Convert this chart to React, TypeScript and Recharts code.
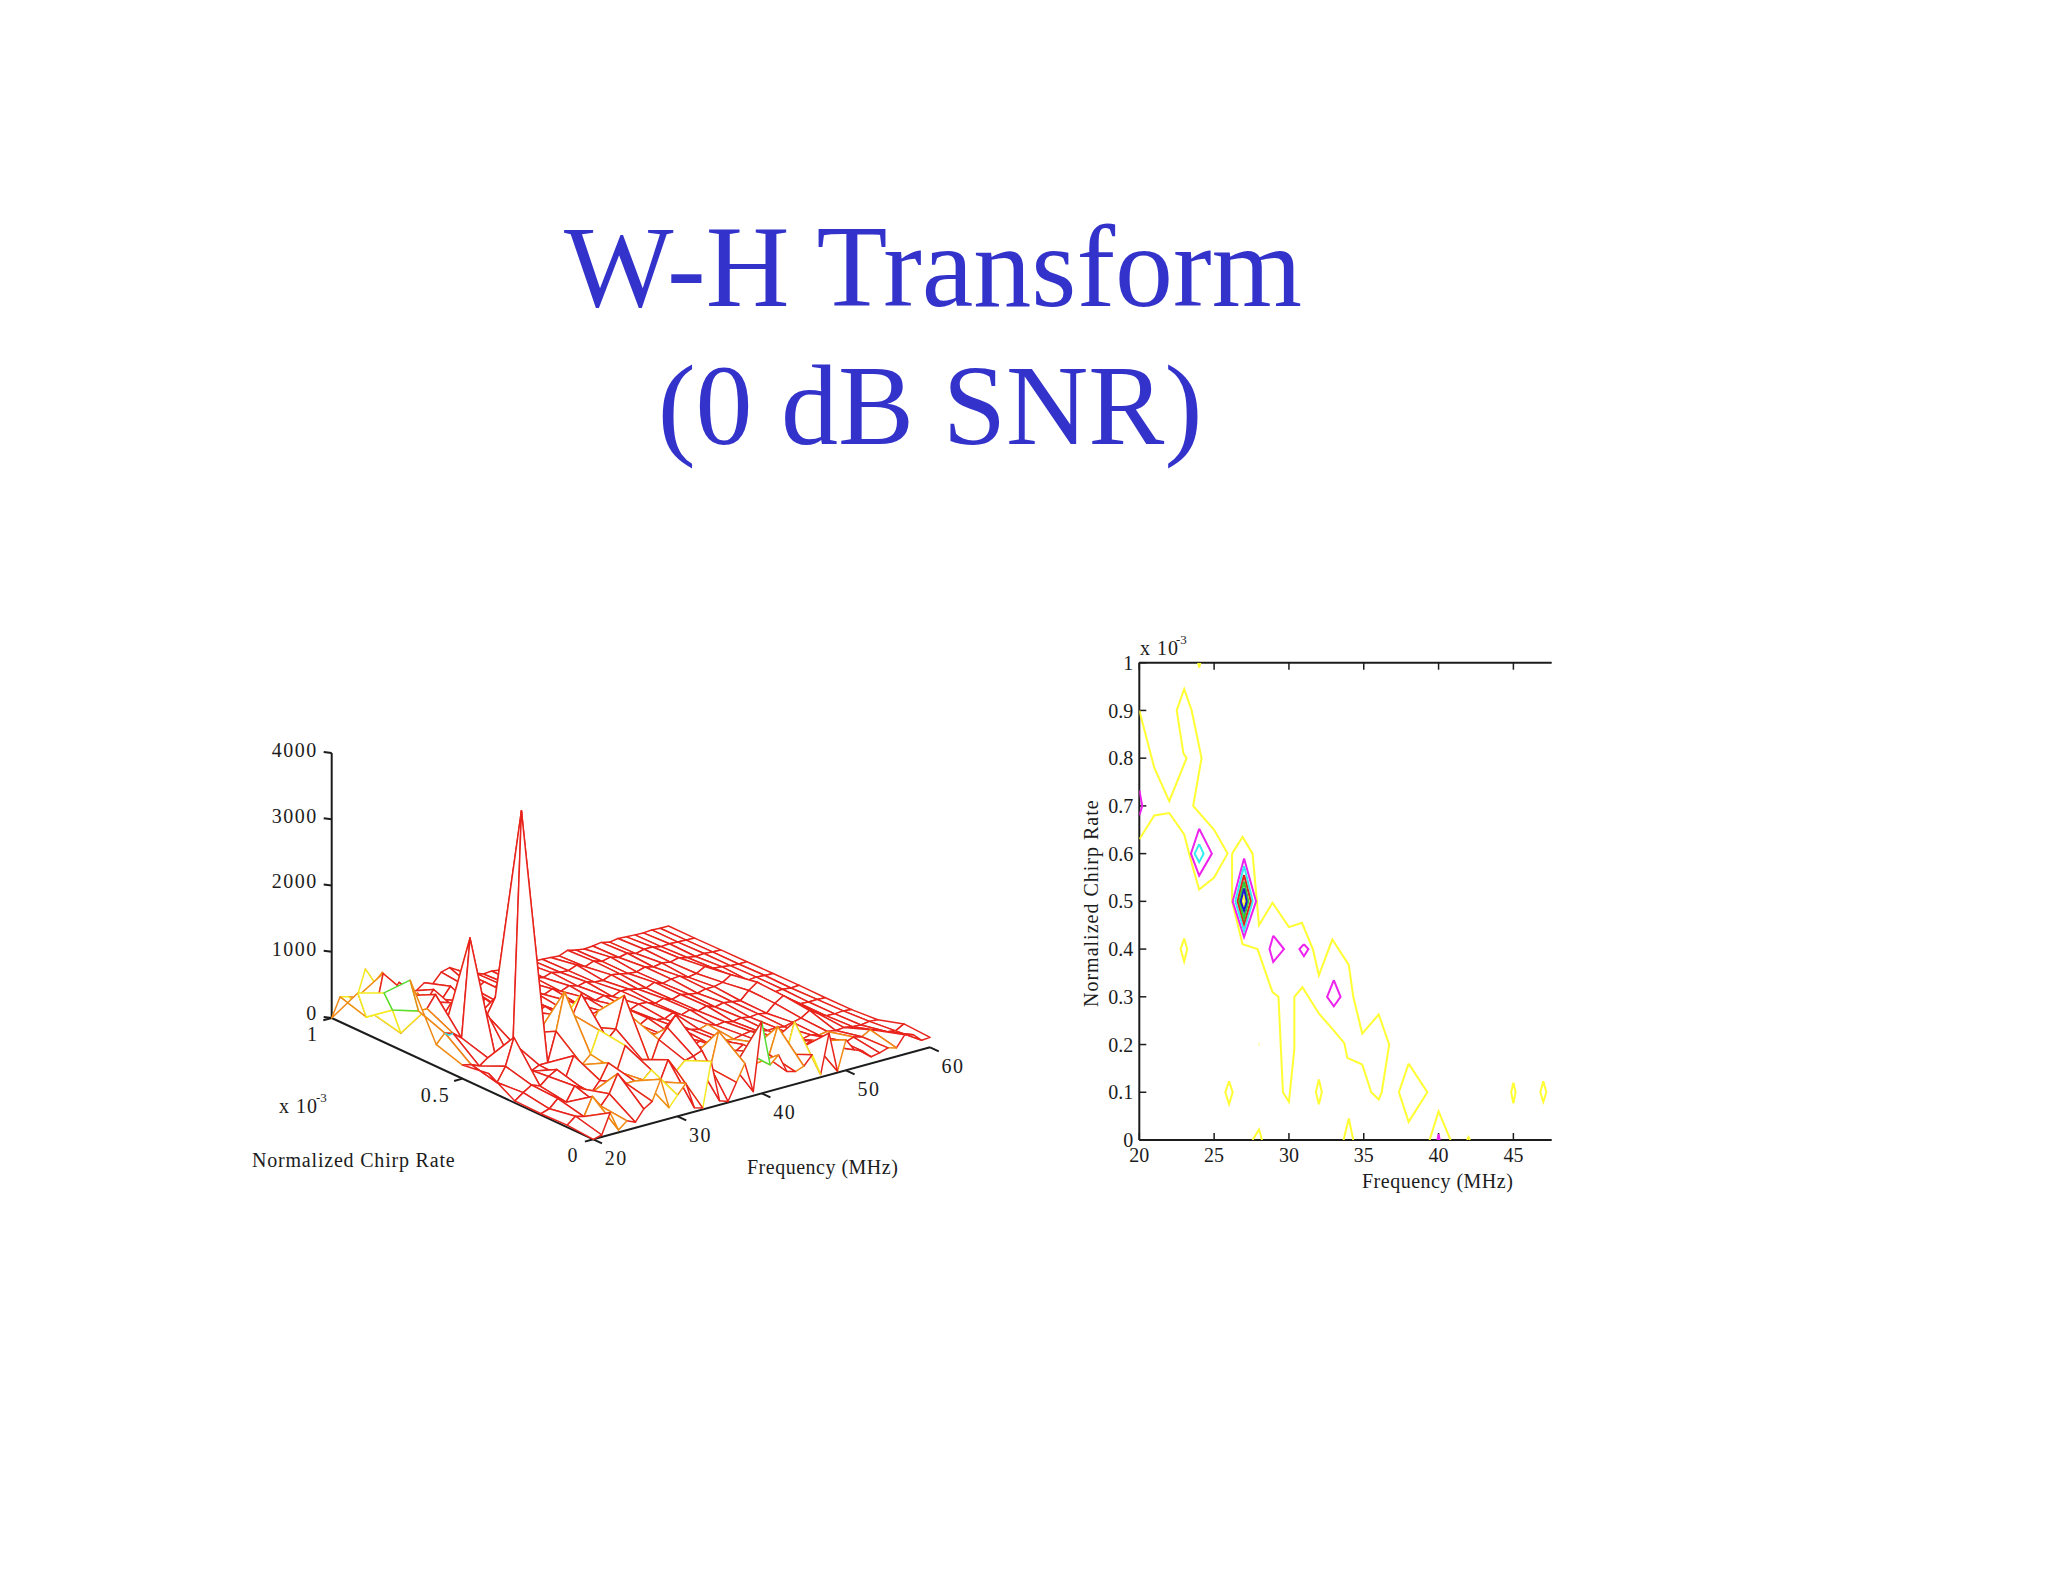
import React from 'react';
import { ScatterChart, Scatter, XAxis, YAxis } from 'recharts';

// ---------- surface data (amplitude by frequency 20..60 MHz) ----------
const frequencies = [20,21,22,23,24,25,26,27,28,29,30,31,32,33,34,35,36,37,38,39,40,41,42,43,44,45,46,47,48,49,50,51,52,53,54,55,56,57,58,59,60];
const chirpRates = [1,0.9,0.8,0.7,0.6,0.5,0.4,0.3,0.2,0.1,0];
const amp100 = [0,285,250,210,600,350,480,100,260,90,60,150,100,240,275,200,60,90,40,50,30,20,40,30,25,18,10,0,50,20,0,10,30,0,20,10,5,0,10,0,0];
const amp090 = [560,163,160,750,200,330,190,220,150,300,120,280,90,200,120,210,90,100,60,40,40,60,30,70,40,30,80,20,70,30,60,20,50,10,40,40,10,20,10,5,0];
const amp080 = [745,453,70,600,600,300,80,150,320,140,260,100,240,130,90,200,130,70,120,60,110,40,90,50,80,40,30,80,60,30,20,60,25,50,30,60,30,10,20,10,5];
const amp070 = [1120,620,620,800,200,180,300,200,100,240,170,280,120,210,160,100,170,90,70,140,60,120,50,90,40,90,80,50,30,80,30,60,70,20,40,110,50,40,20,10,10];
const amp060 = [330,470,430,326,1800,880,565,800,300,200,120,260,200,150,300,220,110,180,120,90,130,70,140,60,110,100,50,90,40,80,50,30,60,60,90,170,80,20,30,20,15];
const amp050 = [205,180,120,210,143,300,330,3800,410,380,480,350,240,380,200,260,300,160,100,140,110,80,150,90,70,130,60,100,50,90,40,70,50,30,150,240,130,20,30,15,20];
const amp040 = [260,90,300,700,220,120,180,180,620,1180,800,1080,550,750,620,300,140,240,180,120,150,100,70,130,90,60,100,50,70,40,60,35,50,25,140,220,120,30,20,25,15];
const amp030 = [30,120,200,150,260,330,160,470,300,420,750,580,700,1170,800,400,280,210,320,160,200,130,170,100,120,80,60,90,110,70,50,60,40,70,100,180,100,30,25,35,20];
const amp020 = [20,60,180,90,300,220,130,280,510,350,700,260,420,320,650,800,955,430,260,340,170,260,200,150,230,120,180,130,150,90,110,70,100,60,80,60,70,50,40,60,50];
const amp010 = [30,130,90,360,180,330,600,417,420,400,515,300,600,400,520,550,600,300,820,380,250,420,180,320,260,650,200,650,240,300,260,150,210,130,180,150,220,170,120,100,170];
const amp000 = [0,30,330,35,140,85,250,330,630,165,320,465,60,20,690,60,15,270,520,60,1087,395,510,225,190,235,375,40,630,20,460,275,220,100,125,165,130,295,260,140,150];
const amplitudes = [amp100,amp090,amp080,amp070,amp060,amp050,amp040,amp030,amp020,amp010,amp000];

// edge colour of each mesh cell: r red, o orange, y yellow, g green
const cells90 = 'oyoyoorr' + 'r'.repeat(32);
const cells80 = 'yyrooorr' + 'r'.repeat(32);
const cells70 = 'gyrorrrr' + 'r'.repeat(32);
const cells60 = 'oorrorrr' + 'orrrrrrrrr' + 'r'.repeat(22);
const cells50 = 'orrrrrrr' + 'oorrrrorrr' + 'r'.repeat(22);
const cells40 = 'rrrrrrrrooyorrrrorrr' + 'rrrr' + 'r'.repeat(16);
const cells30 = 'rrrrrrrroorroyrrrorr' + 'orrrrorr' + 'r'.repeat(12);
const cells20 = 'rrrrrrrooyorroorrorr' + 'rrorrorrrr' + 'r'.repeat(10);
const cells10 = 'rrrrrorrorrrorrrrorr' + 'rorrorrorr' + 'rrrorrrrrr';
const cells00 = 'rroorrrooyorryrrrorr' + 'gorroryrrorrrrrorrrr';
const cellColors = [cells90,cells80,cells70,cells60,cells50,cells40,cells30,cells20,cells10,cells00];
const palette: Record<string,string> = { r:'#e8241c', o:'#f08a14', y:'#f4ea22', g:'#55dd33' };
const cyanEdge: [number,number,number][] = [[21,0.6,470],[21.5,0.6,420],[22,0.6,430]];

const zTicks = [0,1000,2000,3000,4000];
const freqTicks3d = [20,30,40,50,60];
const rateTicks3d = [0,0.5,1];

// ---------- contour data (frequency MHz, chirp rate x1e-3) ----------
type P = [number,number];
const yellowUpper: P[] = [[20,.9],[21,.78],[22,.71],[23.16,.8],[22.95,.81],[22.5,.9],[23,.945],[23.5,.9],[24.16,.8],[23.6,.7],[25,.65],[25.9,.6],[25,.55],[24,.525],[23.5,.58],[23,.64],[22,.685],[21,.68],[20,.63]];
const yellowBand: P[] = [[26.2,.6],[26.9,.635],[27.57,.6],[28,.45],[28.9,.497],[30,.446],[30.87,.455],[31.6,.4],[32,.345],[32.9,.42],[34,.367],[34.3,.3],[34.9,.223],[36,.263],[36.7,.2],[36.2,.1],[36,.085],[35.5,.1],[34.9,.158],[33.9,.172],[33.7,.203],[32.9,.233],[32,.265],[30.9,.32],[30.36,.3],[30.36,.19],[30,.08],[29.6,.1],[29.3,.3],[28.9,.31],[27.9,.4],[26.9,.41],[26.2,.5],[26.2,.6]];
const yellow23: P[] = [[23,.422],[23.2,.4],[23,.374],[22.76,.4],[23,.422]];
const yellow26: P[] = [[26,.123],[26.24,.1],[26,.075],[25.75,.1],[26,.123]];
const yellow32: P[] = [[32,.127],[32.2,.1],[32,.075],[31.8,.1],[32,.127]];
const yellow38: P[] = [[38,.16],[39.25,.1],[38,.038],[37.35,.1],[38,.16]];
const yellow45: P[] = [[45,.12],[45.15,.1],[45,.077],[44.85,.1],[45,.12]];
const yellow47: P[] = [[47,.123],[47.2,.1],[47,.08],[46.8,.1],[47,.123]];
const yellow28: P[] = [[27.57,0],[28,.022],[28.2,0]];
const yellow34: P[] = [[33.65,0],[34,.045],[34.3,0]];
const yellow40: P[] = [[39.4,0],[40,.06],[40.8,0]];
const yellow42: P[] = [[41.9,0],[42,.006],[42.1,0]];
const yellow24Top: P[] = [[23.92,1],[24,.99],[24.08,1]];
const yellow28Dot: P[] = [[27.97,.2],[28.03,.2]];
const yellowCore: P[] = [[27,.513],[27.07,.5],[27,.492],[26.87,.5],[27,.513]];
const yellowContours = [yellowUpper,yellowBand,yellow23,yellow26,yellow32,yellow38,yellow45,yellow47,yellow28,yellow34,yellow40,yellow42,yellow24Top,yellow28Dot,yellowCore];
const magenta20: P[] = [[20,.733],[20.2,.7],[20,.68]];
const magenta24: P[] = [[24,.652],[24.85,.6],[24,.554],[23.45,.6],[24,.652]];
const magenta27: P[] = [[27,.59],[27.8,.5],[27,.425],[26.24,.5],[27,.59]];
const magenta29: P[] = [[28.95,.428],[29.67,.4],[28.95,.373],[28.7,.4],[28.95,.428]];
const magenta31: P[] = [[31,.41],[31.3,.4],[31,.385],[30.7,.4],[31,.41]];
const magenta33: P[] = [[33,.335],[33.45,.3],[33,.28],[32.55,.3],[33,.335]];
const magenta40: P[] = [[39.92,0],[40,.012],[40.08,0]];
const magentaContours = [magenta20,magenta24,magenta27,magenta29,magenta31,magenta33,magenta40];
const cyan24: P[] = [[24,.62],[24.3,.6],[24,.582],[23.7,.6],[24,.62]];
const cyan27: P[] = [[27,.574],[27.58,.5],[27,.4385],[26.42,.5],[27,.574]];
const red27: P[] = [[27,.555],[27.45,.5],[27,.4525],[26.57,.5],[27,.555]];
const green27: P[] = [[27,.541],[27.29,.5],[27,.4645],[26.68,.5],[27,.541]];
const blue27: P[] = [[27,.527],[27.18,.5],[27,.48],[26.78,.5],[27,.527]];
const xTicks2d = [20,25,30,35,40,45];
const yTicks2d = [0,.1,.2,.3,.4,.5,.6,.7,.8,.9,1];

// ---------- layout ----------
const SERIF = '"Liberation Serif", serif';
const INK = '#1c1c1c';
const L = { left: 220, top: 720, w: 780, h: 500 };
const project = (f: number, c: number, z: number) => {
  const x = 593.3 + 8.42 * (f - 20) - 261.6 * c;
  const y = 1139.3 - 2.3 * (f - 20) - 121.3 * c - 0.06625 * z;
  return { u: x - L.left, v: L.top + L.h - y };
};

type Face = { u: number; v: number; depth: number; corners: {u:number;v:number}[]; color: string };
const faces: Face[] = [];
chirpRates.slice(0, -1).forEach((c, i) => {
  frequencies.slice(0, -1).forEach((f, j) => {
    const corners = [
      project(f, c, amplitudes[i][j]),
      project(frequencies[j+1], c, amplitudes[i][j+1]),
      project(frequencies[j+1], chirpRates[i+1], amplitudes[i+1][j+1]),
      project(f, chirpRates[i+1], amplitudes[i+1][j]),
    ];
    faces.push({ ...corners[0], corners, depth: 2.3 * (f - 20) + 121.3 * c, color: palette[cellColors[i][j]] });
  });
});
faces.sort((a, b) => b.depth - a.depth);

const FaceShape = (p: any) => {
  const d: Face = p.payload;
  const pts = d.corners.map(q => `${p.cx + q.u - d.u},${p.cy - (q.v - d.v)}`).join(' ');
  return <polygon points={pts} fill="#fff" stroke={d.color} strokeWidth={1.5} strokeLinejoin="round" />;
};

const none = () => <g />;

type Tick = { u: number; v: number; du: number; dv: number; label: string; tx: number; ty: number; anchor: string };
const tickData: Tick[] = [
  ...zTicks.map(z => ({ ...project(20, 1, z), du: -8, dv: 1, label: String(z), tx: -14, ty: z === 0 ? 2 : z === 2000 ? 2 : 4, anchor: 'end' })),
  ...freqTicks3d.map(f => ({ ...project(f, 0, 0), du: 8.7, dv: -4, label: String(f), tx: 23, ty: 26, anchor: 'middle' })),
  ...rateTicks3d.map(c => ({ ...project(20, c, 0), du: -8.4, dv: -2.3, label: String(c), tx: c === 1 ? -19 : c === 0 ? -20 : -27, ty: 23, anchor: 'middle' })),
];
const TickShape = (p: any) => {
  const d: Tick = p.payload;
  return (
    <g>
      <line x1={p.cx} y1={p.cy} x2={p.cx + d.du} y2={p.cy - d.dv} stroke={INK} strokeWidth={2} />
      <text x={p.cx + d.tx} y={p.cy + d.ty} textAnchor={d.anchor} fontFamily={SERIF} fontSize={20} letterSpacing={1.5} fill={INK}>{d.label}</text>
    </g>
  );
};

const axisC = [project(20, 1, 0), project(20, 0, 0)];
const axisF = [project(20, 0, 0), project(60, 0, 0)];
const axisZ = [project(20, 1, 0), project(20, 1, 4000)];
const cyanLine = cyanEdge.map(([f, c, z]) => project(f, c, z));

const toPts = (a: P[]) => a.map(([f, c]) => ({ f, c }));
const Contour = (a: P[], color: string, key: string) => (
  <Scatter key={key} data={toPts(a)} line={{ stroke: color, strokeWidth: 2 }} shape={none} isAnimationActive={false} />
);

const txt = (x: number, y: number, s: string, o: any = {}) => (
  <text x={x} y={y} fontFamily={SERIF} fontSize={20} fill={INK} {...o}>{s}</text>
);

const titleStyle: React.CSSProperties = { position: 'absolute', left: 0, textAlign: 'center', fontFamily: SERIF, color: '#3333cc', lineHeight: '137px', whiteSpace: 'pre' };

export default function App() {
  return (
    <div style={{ position: 'absolute', left: 0, top: 0, width: 2048, height: 1582, background: '#fff', overflow: 'hidden' }}>
      <div style={{ ...titleStyle, width: 1866, top: 199, fontSize: 116 }}>W-H Transform</div>
      <div style={{ ...titleStyle, width: 1860, top: 337, fontSize: 114 }}>(0 dB SNR)</div>

      <div style={{ position: 'absolute', left: L.left, top: L.top }}>
        <ScatterChart width={L.w} height={L.h} margin={{ top: 0, right: 0, bottom: 0, left: 0 }}>
          <XAxis type="number" dataKey="u" domain={[0, L.w]} hide allowDataOverflow />
          <YAxis type="number" dataKey="v" domain={[0, L.h]} hide allowDataOverflow />
          <Scatter data={axisC} line={{ stroke: INK, strokeWidth: 2 }} shape={none} isAnimationActive={false} />
          <Scatter data={axisF} line={{ stroke: INK, strokeWidth: 2 }} shape={none} isAnimationActive={false} />
          <Scatter data={axisZ} line={{ stroke: INK, strokeWidth: 2 }} shape={none} isAnimationActive={false} />
          <Scatter data={tickData} shape={TickShape} isAnimationActive={false} />
          <Scatter data={faces} shape={FaceShape} isAnimationActive={false} />
          <Scatter data={cyanLine} line={{ stroke: '#33e0e0', strokeWidth: 1.5 }} shape={none} isAnimationActive={false} />
        </ScatterChart>
      </div>

      <div style={{ position: 'absolute', left: 1060, top: 620 }}>
        <ScatterChart width={520} height={600} margin={{ top: 41.7, right: 28.3, bottom: 50, left: 19.3 }}>
          <XAxis type="number" dataKey="f" domain={[20, 47.56]} ticks={xTicks2d} height={30} allowDataOverflow
            tickSize={-7} tickMargin={15} interval={0}
            axisLine={{ stroke: INK, strokeWidth: 2 }} tickLine={{ stroke: INK, strokeWidth: 1.5 }}
            tick={{ fontFamily: SERIF, fontSize: 20, fill: INK }} />
          <XAxis xAxisId="top" orientation="top" type="number" dataKey="f" domain={[20, 47.56]} ticks={xTicks2d} height={1} allowDataOverflow
            tickSize={-7} tickMargin={0} interval={0} tickFormatter={() => ''}
            axisLine={{ stroke: INK, strokeWidth: 2 }} tickLine={{ stroke: INK, strokeWidth: 1.5 }} />
          <YAxis type="number" dataKey="c" domain={[0, 1]} ticks={yTicks2d} width={60} allowDataOverflow
            tickSize={-7} tickMargin={13} interval={0}
            axisLine={{ stroke: INK, strokeWidth: 2 }} tickLine={{ stroke: INK, strokeWidth: 1.5 }}
            tick={{ fontFamily: SERIF, fontSize: 20, fill: INK }} />
          {yellowContours.map((a, i) => Contour(a, '#ffff33', 'y' + i))}
          {magentaContours.map((a, i) => Contour(a, '#ee22ee', 'm' + i))}
          {Contour(cyan24, '#33eeee', 'c1')}
          {Contour(cyan27, '#33eeee', 'c2')}
          {Contour(red27, '#e02020', 'r')}
          {Contour(green27, '#33cc33', 'g')}
          {Contour(blue27, '#1a1acc', 'b')}
        </ScatterChart>
      </div>

      <svg width={2048} height={1582} style={{ position: 'absolute', left: 0, top: 0, pointerEvents: 'none' }}>
        {txt(252, 1167, 'Normalized Chirp Rate', { letterSpacing: 0.8 })}
        {txt(747, 1174, 'Frequency (MHz)', { letterSpacing: 0.5 })}
        {txt(279, 1113, 'x 10', { letterSpacing: 1 })}
        {txt(316, 1102, '-3', { fontSize: 13 })}
        {txt(1362, 1188, 'Frequency (MHz)', { letterSpacing: 0.5 })}
        {txt(1140, 655, 'x 10', { letterSpacing: 1 })}
        {txt(1176, 644, '-3', { fontSize: 13 })}
        {txt(0, 0, 'Normalized Chirp Rate', { letterSpacing: 1, transform: 'translate(1098,1007) rotate(-90)' })}
      </svg>
    </div>
  );
}
